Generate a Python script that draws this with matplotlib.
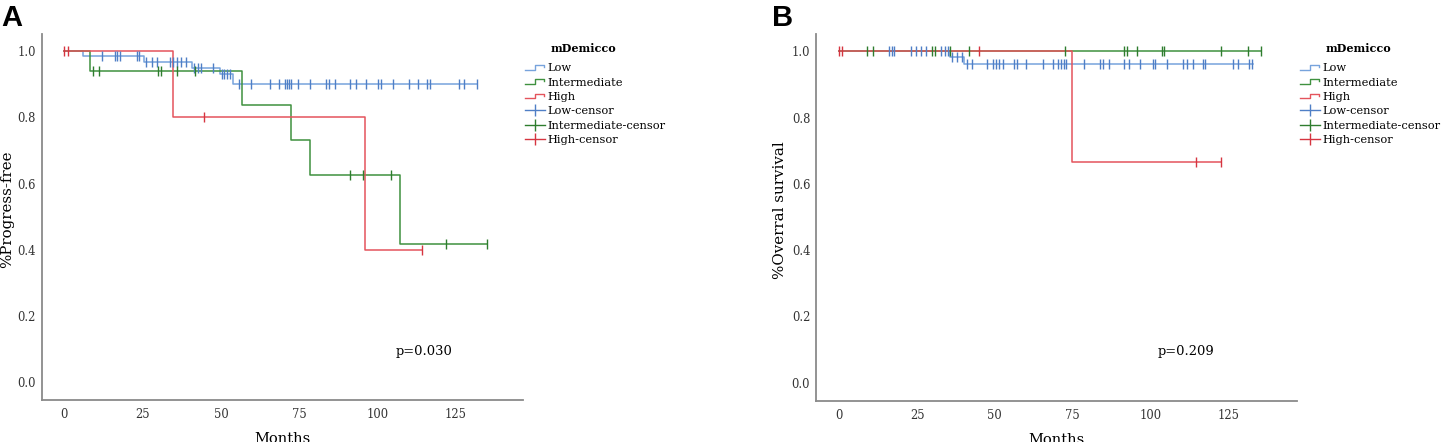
import numpy as np
import matplotlib
matplotlib.use("Agg")
import matplotlib.pyplot as plt
from matplotlib.lines import Line2D
from matplotlib.legend_handler import HandlerBase

plt.rcParams['font.family'] = ['DejaVu Serif']

# ---- panel A: progress-free (KM steps: time of drop, level after drop)
a_low_t = [0, 6.1, 25.5, 40.7, 49.7, 53.7, 131.8]
a_low_s = [1.0, 0.986, 0.968, 0.950, 0.930, 0.900, 0.900]
a_low_c = [12.1, 16.2, 16.9, 17.8, 23.1, 23.9, 26.1, 27.9, 29.7, 33.7, 34.6, 35.9,
           37.2, 38.8, 41.5, 42.8, 43.6, 47.6, 50.2, 51.1, 51.8, 52.9, 55.9, 59.6,
           65.7, 68.6, 70.4, 71.2, 71.8, 72.5, 74.5, 78.4, 83.4, 84.5, 86.4, 91.2,
           93.1, 96.2, 100.1, 101.0, 105.0, 110.0, 112.8, 115.9, 116.8, 125.9,
           127.7, 131.8]
a_int_t = [0, 8.2, 56.6, 72.5, 78.4, 107.1, 135.0]
a_int_s = [1.0, 0.941, 0.837, 0.732, 0.627, 0.418, 0.418]
a_int_c = [9.1, 11.2, 30.0, 30.8, 35.9, 41.7, 91.2, 95.2, 104.2, 121.8, 135.0]
a_high_t = [0, 34.8, 96.1, 114.1]
a_high_s = [1.0, 0.8, 0.4, 0.4]
a_high_c = [0.0, 1.1, 44.7, 114.1]

# ---- panel B: overall survival
b_low_t = [0, 35.6, 40.1, 133.0]
b_low_s = [1.0, 0.983, 0.961, 0.961]
b_low_c = [16.0, 16.8, 17.7, 23.0, 24.5, 26.2, 27.9, 32.8, 34.0, 34.8, 36.1, 37.7,
           39.3, 40.9, 42.7, 47.4, 49.3, 50.4, 51.2, 52.5, 56.1, 57.2, 59.9, 65.6,
           68.8, 70.4, 71.2, 72.1, 72.8, 78.7, 83.8, 84.6, 86.6, 91.5, 93.2, 96.6,
           100.7, 101.4, 105.4, 110.5, 111.6, 113.6, 116.8, 117.5, 126.4, 128.2,
           131.7, 132.5]
b_int_t = [0, 135.5]
b_int_s = [1.0, 1.0]
b_int_c = [8.8, 10.9, 29.7, 30.8, 35.5, 41.8, 72.7, 91.5, 92.4, 95.6, 103.6, 104.3,
           122.6, 131.4, 135.5]
b_high_t = [0, 74.7, 122.7]
b_high_s = [1.0, 0.667, 0.667]
b_high_c = [0.0, 1.0, 45.0, 114.5, 122.7]

groups = ["Low", "Intermediate", "High"]
colors = ["#77A3DC", "#3F913F", "#E4545C"]
tick_colors = ["#4F7FC6", "#2E7D2E", "#D63540"]

W, H = 1447, 442


class StepHandler(HandlerBase):
    def create_artists(self, legend, orig, xd, yd, width, height, fontsize, trans):
        x0, y0 = -xd, -yd
        lo, hi = y0 + 0.25 * height, y0 + 0.8 * height
        xs = [x0, x0 + 0.5 * width, x0 + 0.5 * width, x0 + 0.95 * width, x0 + 0.95 * width]
        ys = [lo, lo, hi, hi, hi - 0.25 * height]
        ln = Line2D(xs, ys, color=orig.get_color(), lw=1.0, transform=trans)
        return [ln]


def level_at(t, s, x):
    idx = np.searchsorted(t, x, side='right') - 1
    return np.asarray(s)[np.clip(idx, 0, len(s) - 1)]


def panel(rect, xlim, data, ylabel, ptext, ppos, letter, letter_x, ylab_x, leg_x):
    ax = fig.add_axes(rect)
    for (t, s, c), col, tcol in zip(data, colors, tick_colors):
        ax.step(t, s, where='post', color=col, lw=1.1)
    for (t, s, c), col, tcol in zip(data, colors, tick_colors):
        ax.plot(c, level_at(t, s, c), ls='none', marker='|', ms=6.5, mew=1.0, color=tcol)
    ax.set_xlim(*xlim)
    ax.set_ylim(-0.054, 1.052)
    ax.set_xticks([0, 25, 50, 75, 100, 125])
    ax.set_yticks([0.0, 0.2, 0.4, 0.6, 0.8, 1.0])
    ax.set_yticklabels(["0.0", "0.2", "0.4", "0.6", "0.8", "1.0"])
    ax.tick_params(length=0, labelsize=8.3, colors='#333333')
    ax.tick_params(axis='x', pad=6)
    ax.tick_params(axis='y', pad=4)
    for side in ['top', 'right']:
        ax.spines[side].set_visible(False)
    for side in ['left', 'bottom']:
        ax.spines[side].set_color('#8a8a8a')
        ax.spines[side].set_linewidth(1.3)
    ax.set_xlabel("Months", fontsize=10.5, va='center')
    ax.xaxis.set_label_coords(0.5, -0.106)
    ax.set_ylabel(ylabel, fontsize=10.8, va='center')
    ax.yaxis.set_label_coords(ylab_x, 0.52)
    ax.text(ppos[0], ppos[1], ptext, fontsize=9.4, ha='center', va='center')

    fig.text(letter_x / W, 1 - 18 / H, letter, fontsize=21, fontweight='bold',
             family='Liberation Sans', va='center', ha='left')

    handles = [Line2D([], [], color=col) for col in colors]
    handles += [Line2D([], [], color=col, marker='|', ms=8, mew=1.0, lw=1.0)
                for col in tick_colors]
    labels = groups + [g + "-censor" for g in groups]
    hmap = {h: StepHandler() for h in handles[:3]}
    fig.legend(handles, labels, handler_map=hmap, loc='upper left',
               bbox_to_anchor=(leg_x / W, 1 - 63.5 / H), frameon=False,
               fontsize=8.2, handlelength=1.75, handletextpad=0.25, labelspacing=0.38,
               borderpad=0, borderaxespad=0, numpoints=1)
    fig.text((leg_x + 26) / W, 1 - 49 / H, "mDemicco", fontsize=8,
             fontweight='bold', va='center', ha='left')
    return ax


fig = plt.figure(figsize=(W / 100, H / 100), dpi=100)

data_a = [(a_low_t, a_low_s, a_low_c), (a_int_t, a_int_s, a_int_c), (a_high_t, a_high_s, a_high_c)]
data_b = [(b_low_t, b_low_s, b_low_c), (b_int_t, b_int_s, b_int_c), (b_high_t, b_high_s, b_high_c)]

panel([41.5 / W, 42 / H, 481.8 / W, 366 / H], (-7.28, 146.5), data_a,
      "%Progress-free", "p=0.030", (114.7, 0.092), "A", 1, -0.072, 525)
panel([815.7 / W, 41.3 / H, 481.6 / W, 366.7 / H], (-7.58, 147.2), data_b,
      "%Overral survival", "p=0.209", (111.3, 0.095), "B", 772, -0.074, 1300)

fig.savefig("out.png", dpi=100)
